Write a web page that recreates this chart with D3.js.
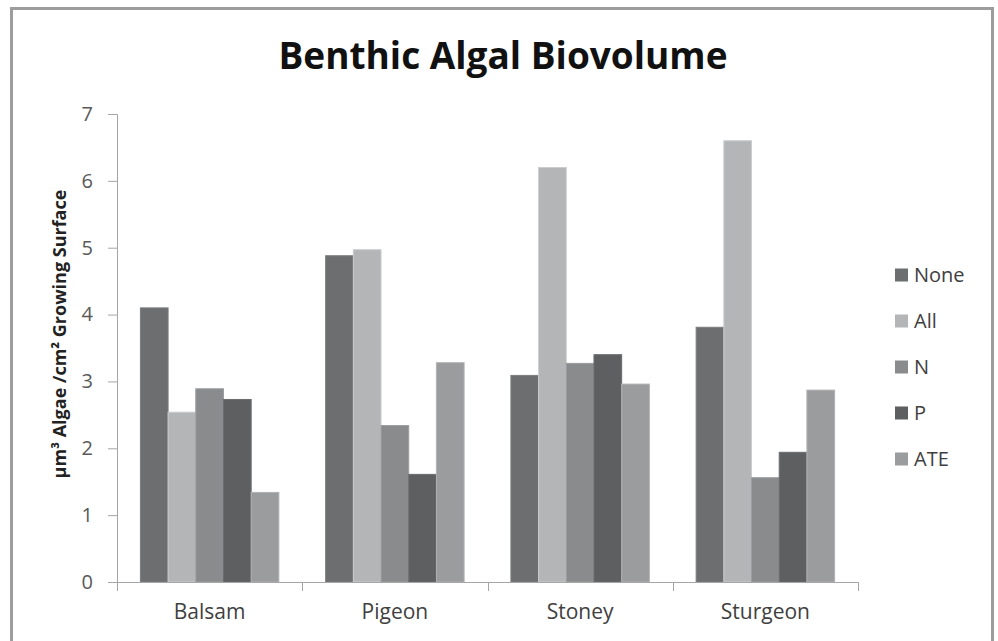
<!DOCTYPE html>
<html>
<head>
<meta charset="utf-8">
<script src="https://cdn.jsdelivr.net/npm/d3@7"></script>
<style>
  html, body { margin: 0; padding: 0; background: #fff; }
  svg { display: block; }
</style>
</head>
<body>
<svg id="chart" width="998" height="641"></svg>
<script>
// Lakes along the x axis
const lakes = ["Balsam", "Pigeon", "Stoney", "Sturgeon"];
// Nutrient treatments (legend order)
const treatments = ["None", "All", "N", "P", "ATE"];
// Biovolume per treatment, one value per lake
const noneVals = [4.10, 4.88, 3.09, 3.81];
const allVals  = [2.54, 4.97, 6.20, 6.60];
const nVals    = [2.89, 2.34, 3.27, 1.56];
const pVals    = [2.73, 1.61, 3.40, 1.94];
const ateVals  = [1.34, 3.28, 2.96, 2.87];
const yTicks = [0, 1, 2, 3, 4, 5, 6, 7];
const fills = ["#6d6e70", "#b4b5b7", "#8a8b8d", "#5e5f61", "#9b9c9e"];

const series = [noneVals, allVals, nVals, pVals, ateVals];

const svg = d3.select("#chart");
const font = "'Open Sans', Lato, sans-serif";

// outer frame
svg.append("path")
  .attr("d", "M11.5,650 V8.5 H992.5 V650")
  .attr("fill", "none")
  .attr("stroke", "#9d9d9d")
  .attr("stroke-width", 3);

const plot = { left: 117, right: 858, top: 114, bottom: 582 };

const x0 = d3.scaleBand().domain(lakes).range([plot.left, plot.right]).paddingInner(0).paddingOuter(0);
const x1 = d3.scaleBand().domain(treatments).range([0, x0.bandwidth()]).paddingInner(0).paddingOuter(0.845);
const y = d3.scaleLinear().domain([0, 7]).range([plot.bottom, plot.top]);
const color = d3.scaleOrdinal().domain(treatments).range(fills);

// title
svg.append("text")
  .attr("x", 503).attr("y", 69)
  .attr("text-anchor", "middle")
  .attr("font-family", font)
  .attr("font-weight", 700)
  .attr("font-size", 37)
  .attr("fill", "#111")
  .text("Benthic Algal Biovolume");

// bars
const groups = svg.append("g").selectAll("g")
  .data(lakes)
  .join("g")
  .attr("transform", d => `translate(${x0(d)},0)`);

groups.selectAll("rect")
  .data((lake, i) => treatments.map((t, k) => ({ t, v: series[k][i] })))
  .join("rect")
  .attr("x", d => x1(d.t))
  .attr("width", x1.bandwidth())
  .attr("y", d => y(d.v))
  .attr("height", d => y(0) - y(d.v))
  .attr("fill", d => color(d.t))
  .attr("stroke", d => d3.color(color(d.t)).brighter(0.35))
  .attr("stroke-width", 1);

// y axis
const yAxis = d3.axisLeft(y).tickValues(yTicks).tickSize(9).tickPadding(15).tickFormat(d3.format("d"));
const gy = svg.append("g").attr("transform", `translate(${plot.left},0)`).call(yAxis);
gy.select(".domain").attr("stroke", "#a6a6a6");
gy.selectAll(".tick line").attr("stroke", "#a6a6a6");
gy.selectAll(".tick text")
  .attr("font-family", font).attr("font-size", 20).attr("fill", "#595959");

// x axis: tick marks at category boundaries
const xAxis = d3.axisBottom(x0).tickSize(0).tickPadding(22);
const gx = svg.append("g").attr("transform", `translate(0,${plot.bottom})`).call(xAxis);
gx.select(".domain").attr("stroke", "#a6a6a6").attr("d", `M${plot.left - 9},0.5H${plot.right}`);
gx.selectAll(".tick text")
  .attr("font-family", font).attr("font-size", 21).attr("fill", "#404040");
gx.selectAll(".boundary")
  .data(lakes.map(l => x0(l)).concat([plot.right]))
  .join("line")
  .attr("class", "boundary")
  .attr("x1", d => Math.round(d) + 0.5).attr("x2", d => Math.round(d) + 0.5)
  .attr("y1", 0).attr("y2", 9)
  .attr("stroke", "#a6a6a6");

// y axis title
svg.append("text")
  .attr("transform", "translate(66,334) rotate(-90)")
  .attr("text-anchor", "middle")
  .attr("font-family", font)
  .attr("font-weight", 700)
  .attr("font-size", 18)
  .attr("fill", "#222")
  .text("µm³ Algae /cm² Growing Surface");

// legend
const legend = svg.append("g").selectAll("g")
  .data(treatments)
  .join("g")
  .attr("transform", (d, i) => `translate(895,${275 + i * 46})`);
legend.append("rect")
  .attr("x", 0).attr("y", -6.5)
  .attr("width", 13).attr("height", 13)
  .attr("fill", d => color(d));
legend.append("text")
  .attr("x", 19).attr("y", 0)
  .attr("dy", "0.35em")
  .attr("font-family", font).attr("font-size", 20)
  .attr("fill", "#404040")
  .text(d => d);
</script>
</body>
</html>
